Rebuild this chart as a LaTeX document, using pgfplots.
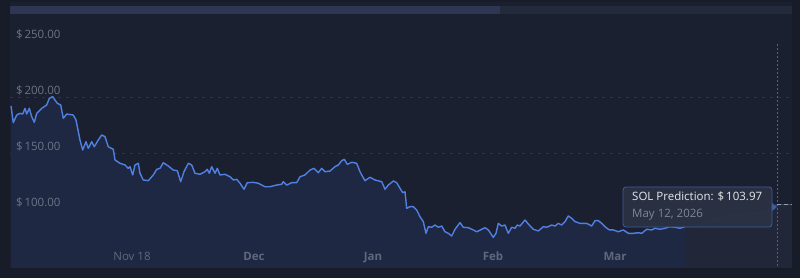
\documentclass[border=0pt]{standalone}
\usepackage{pgfplots}
\pgfplotsset{compat=1.18}
\usepackage{pgfplotstable}
\usepackage{fontspec}
\setmainfont{Open Sans}
\definecolor{outerbg}{HTML}{171C28}
\definecolor{plotbg}{HTML}{1A2030}
\definecolor{areacol}{HTML}{1F2842}
\definecolor{fcarea}{HTML}{212738}
\definecolor{linecol}{HTML}{4F80E2}
\definecolor{predline}{HTML}{3A4763}
\definecolor{gridcol}{HTML}{2B3345}
\definecolor{tickcol}{HTML}{6B7386}
\definecolor{monthcol}{HTML}{5F687B}
\definecolor{track}{HTML}{232A3C}
\definecolor{thumb}{HTML}{2D3753}
\definecolor{vline}{HTML}{586276}
\definecolor{tipfill}{HTML}{2A3244}
\definecolor{tipborder}{HTML}{3E5C9E}
\definecolor{tiptext}{HTML}{E6E9EF}
\definecolor{tipdate}{HTML}{7D8596}

\pgfplotstableread{
x y
11 192.0
13.3 177.1
16.7 183.9
20 185.4
22.7 184.8
25 189.9
26.7 184.8
29.3 189.9
31.7 182.4
34.3 177.4
36.7 185.4
41.7 189.9
46.7 192.9
49.3 198.8
52.7 200.3
55 197.3
57.3 194.4
60.7 192.9
63.3 181.0
66.7 184.8
73.3 183.9
76 179.5
80 161.6
82.7 152.7
86 160.1
88.3 154.2
91.7 160.1
94.3 155.6
98.3 161.6
101.7 166.1
105 164.6
108.3 155.6
113.3 153.3
115 143.8
120 140.8
125 139.3
128.3 136.3
130 137.8
132.7 130.4
135 139.3
138.3 140.8
140 131.9
143.3 125.9
148.3 125.3
153.3 130.4
156.7 135.4
160 136.3
163.3 141.3
168.3 138.4
173.3 134.8
177.3 134.2
180.7 124.4
184 133.3
188.3 140.8
191.7 139.3
195 131.9
200 131.0
205 133.3
207.3 135.4
209.3 131.9
211.7 137.8
215 131.9
217.3 136.3
220 130.4
225 131.0
230 128.8
233.3 125.9
236.7 126.5
240 123.0
244 117.6
247.3 123.5
253.3 123.8
258.3 123.0
265 119.9
270 119.9
276.7 121.4
281.7 122.1
283.3 124.4
286.7 121.4
291.7 123.5
296.7 123.5
300 128.8
305 130.4
310 134.8
314 136.3
318.3 132.4
321.7 136.3
325 133.3
330 133.9
335 137.8
338.3 139.3
341.7 143.1
344.3 144.4
347.3 139.9
351.7 141.7
356.7 140.8
360 133.3
361.7 130.4
365 125.3
370 128.3
375 125.9
381.7 124.4
385 117.6
388.3 121.4
393.3 125.0
396.7 123.5
400 118.5
402.7 114.6
405 115.4
406.7 100.6
410 102.1
413.3 102.1
416.7 99.1
420 93.1
423.3 88.7
426 78.3
428.3 84.2
431.7 83.7
435 85.7
438.3 83.7
441.7 84.8
445 79.7
448.3 78.3
451.7 75.9
455 81.9
460 87.8
463.3 83.7
468.3 83.3
473.3 81.3
476.7 79.7
481.7 81.9
485 83.3
488.3 81.3
493.3 74.7
496 78.3
498.3 87.2
501.7 84.8
505 85.7
508.3 78.3
511.7 83.7
515 82.8
517.3 85.7
520 84.8
525 90.2
528.3 86.6
533.3 81.9
538.3 80.4
543.3 84.2
546.7 83.7
551.7 85.7
555 84.8
558.3 87.2
561.7 85.7
565 88.7
568.3 93.8
571.7 91.7
575 88.7
580 87.2
586.7 87.2
591.7 84.8
595 89.6
598.3 89.6
601.7 87.2
605 84.2
609.3 81.3
613.3 81.3
618.3 79.7
623.3 81.3
628.3 78.3
633.3 78.3
638.3 78.8
641.7 78.3
646.7 81.9
651.7 81.3
655 82.8
660 81.9
665 82.8
670 84.2
675 83.7
680 82.8
685 84.2
}\hist

\pgfplotstableread{
x y
685 84.2
700 84.8
710 88.7
720 92.6
730 94.6
743 94.6
757 96.4
767 97.6
772 102.1
777 103.97
792 103.97
}\pred

\begin{document}
\begin{tikzpicture}[x=1pt,y=1pt]
\fill[outerbg] (0,0) rectangle (800,278);
\fill[plotbg] (10,10) rectangle (792,276);
\fill[track] (10,264) rectangle (792,272);
\fill[thumb] (10,264) rectangle (500,272);
\begin{axis}[
  at={(10pt,10pt)}, anchor=south west,
  scale only axis, width=782pt, height=248pt,
  xmin=10, xmax=792, ymin=47.32, ymax=268.75,
  axis on top,
  axis line style={draw=none},
  major tick style={draw=none},
  clip=true,
  ytick={100,150,200,250},
  yticklabels={\$\,100.00,\$\,150.00,\$\,200.00,\$\,250.00},
  yticklabel style={anchor=base west, xshift=2.5pt, yshift=2pt, font=\fontsize{11.5}{13}\selectfont, text=tickcol},
  xtick={132,254,373,493,615},
  xticklabels={Nov 18,\textbf{Dec},\textbf{Jan},\textbf{Feb},\textbf{Mar}},
  xticklabel style={anchor=base, yshift=7pt, font=\fontsize{11.5}{13}\selectfont, text=monthcol},
]
\draw[gridcol, dash pattern=on 3pt off 5pt] (axis cs:10,200) -- (axis cs:792,200);
\draw[gridcol, dash pattern=on 3pt off 5pt] (axis cs:10,150) -- (axis cs:792,150);
\addplot[fill=areacol, draw=none] table[x=x,y=y] {\hist} \closedcycle;
\addplot[fill=fcarea, draw=none] table[x=x,y=y] {\pred} \closedcycle;
\addplot[predline, line width=1pt] table[x=x,y=y] {\pred};
\addplot[linecol, line width=1.4pt, line join=round] table[x=x,y=y] {\hist};
\draw[vline, line width=0.8pt, dash pattern=on 2pt off 2pt] (axis cs:777,247.3) -- (axis cs:777,47.32);
\addplot[tipdate!80, line width=1pt, dash pattern=on 4pt off 3pt, forget plot] coordinates {(777,103.97) (792,103.97)};
\end{axis}
% tooltip
\filldraw[fill=tipfill, fill opacity=0.92, draw=tipborder, line width=0.8pt, rounded corners=3pt] (623,51) rectangle (772,91);
\fill[tipborder] (772,75) -- (777,71) -- (772,67) -- cycle;
\node[anchor=base west, inner sep=0, text=tiptext, font=\fontsize{11.5}{13}\selectfont] at (632,77) {SOL Prediction: \$\,103.97};
\node[anchor=base west, inner sep=0, text=tipdate, font=\fontsize{11.5}{13}\selectfont] at (632,60) {May 12, 2026};
\end{tikzpicture}
\end{document}
